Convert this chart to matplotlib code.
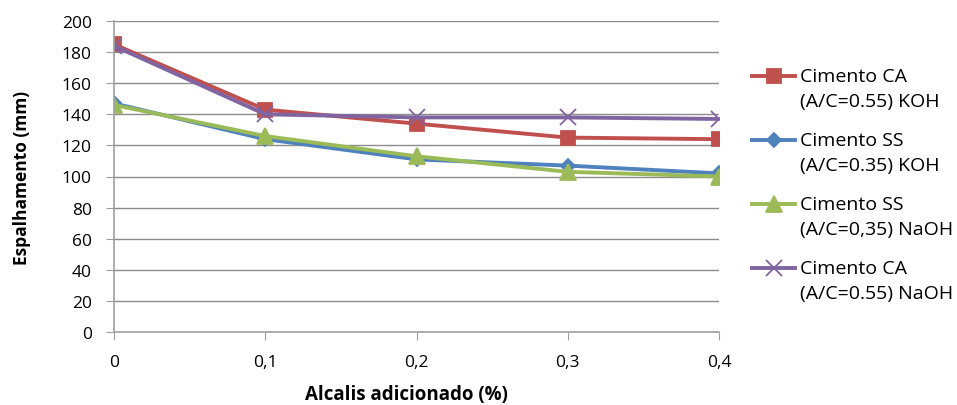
import numpy as np
import matplotlib.pyplot as plt
from matplotlib.lines import Line2D

plt.rcParams['font.family'] = ['Open Sans', 'DejaVu Sans']

# alcalis adicionado (%)
alcalis = [0, 0.1, 0.2, 0.3, 0.4]
tick_labels = ['0', '0,1', '0,2', '0,3', '0,4']

# espalhamento (mm)
ca_koh = [185, 143, 134, 125, 124]
ss_koh = [147, 124, 111, 107, 102]
ss_naoh = [146, 126, 113, 103, 100]
ca_naoh = [184, 140, 138, 138, 137]

series = [
    (ca_koh, '#C0504D', 's', 10, 'Cimento CA', '(A/C=0.55) KOH'),
    (ss_koh, '#4F81BD', 'D', 7, 'Cimento SS', '(A/C=0.35) KOH'),
    (ss_naoh, '#9BBB59', '^', 11, 'Cimento SS', '(A/C=0,35) NaOH'),
    (ca_naoh, '#8064A2', 'x', 11, 'Cimento CA', '(A/C=0.55) NaOH'),
]

W, H = 957, 406
fig = plt.figure(figsize=(W / 100, H / 100), dpi=100)
ax = fig.add_axes([114/W, 1 - 333/H, (719 - 114)/W, (333 - 22)/H])

for vals, c, m, ms, l1, l2 in series:
    ax.plot(alcalis, vals, color=c, lw=2.8, marker=m, ms=ms, mew=1.3)

ax.set_xlim(0, 0.4)
ax.set_ylim(0, 200)
ax.set_xticks(alcalis)
ax.set_xticklabels(tick_labels)
ax.set_yticks(np.arange(0, 201, 20))
ax.grid(axis='y', color='#8c8c8c', lw=1)
ax.set_axisbelow(True)
for s in ['top', 'right']:
    ax.spines[s].set_visible(False)
for s in ['left', 'bottom']:
    ax.spines[s].set_color('#a0a0a0')
    ax.spines[s].set_linewidth(1.2)
ax.tick_params(axis='both', colors='#a0a0a0', labelcolor='black', labelsize=12.5, length=6)
ax.tick_params(axis='x', pad=10)
ax.tick_params(axis='y', pad=10)

ax.set_xlabel('Alcalis adicionado (%)', fontsize=13.5, fontweight='bold')
ax.xaxis.set_label_coords((406 - 114) / (719 - 114), -(395 - 333) / (333 - 22))
ax.xaxis.label.set_va('center')
ax.set_ylabel('Espalhamento (mm)', fontsize=12.5, fontweight='bold', labelpad=22)

# legenda: marcador alinhado com a primeira linha do texto
for i, (vals, c, m, ms, l1, l2) in enumerate(series):
    y0 = 77 + 64 * i
    fig.add_artist(Line2D([752/W, 795/W], [1 - y0/H] * 2, color=c, lw=2.8))
    fig.add_artist(Line2D([773.5/W], [1 - y0/H], color=c, marker=m, ms=ms, mew=1.3))
    fig.text(800/W, 1 - y0/H, l1, fontsize=14, va='center', ha='left')
    fig.text(800/W, 1 - (y0 + 25)/H, l2, fontsize=14, va='center', ha='left')

fig.savefig('out.png', dpi=100)
